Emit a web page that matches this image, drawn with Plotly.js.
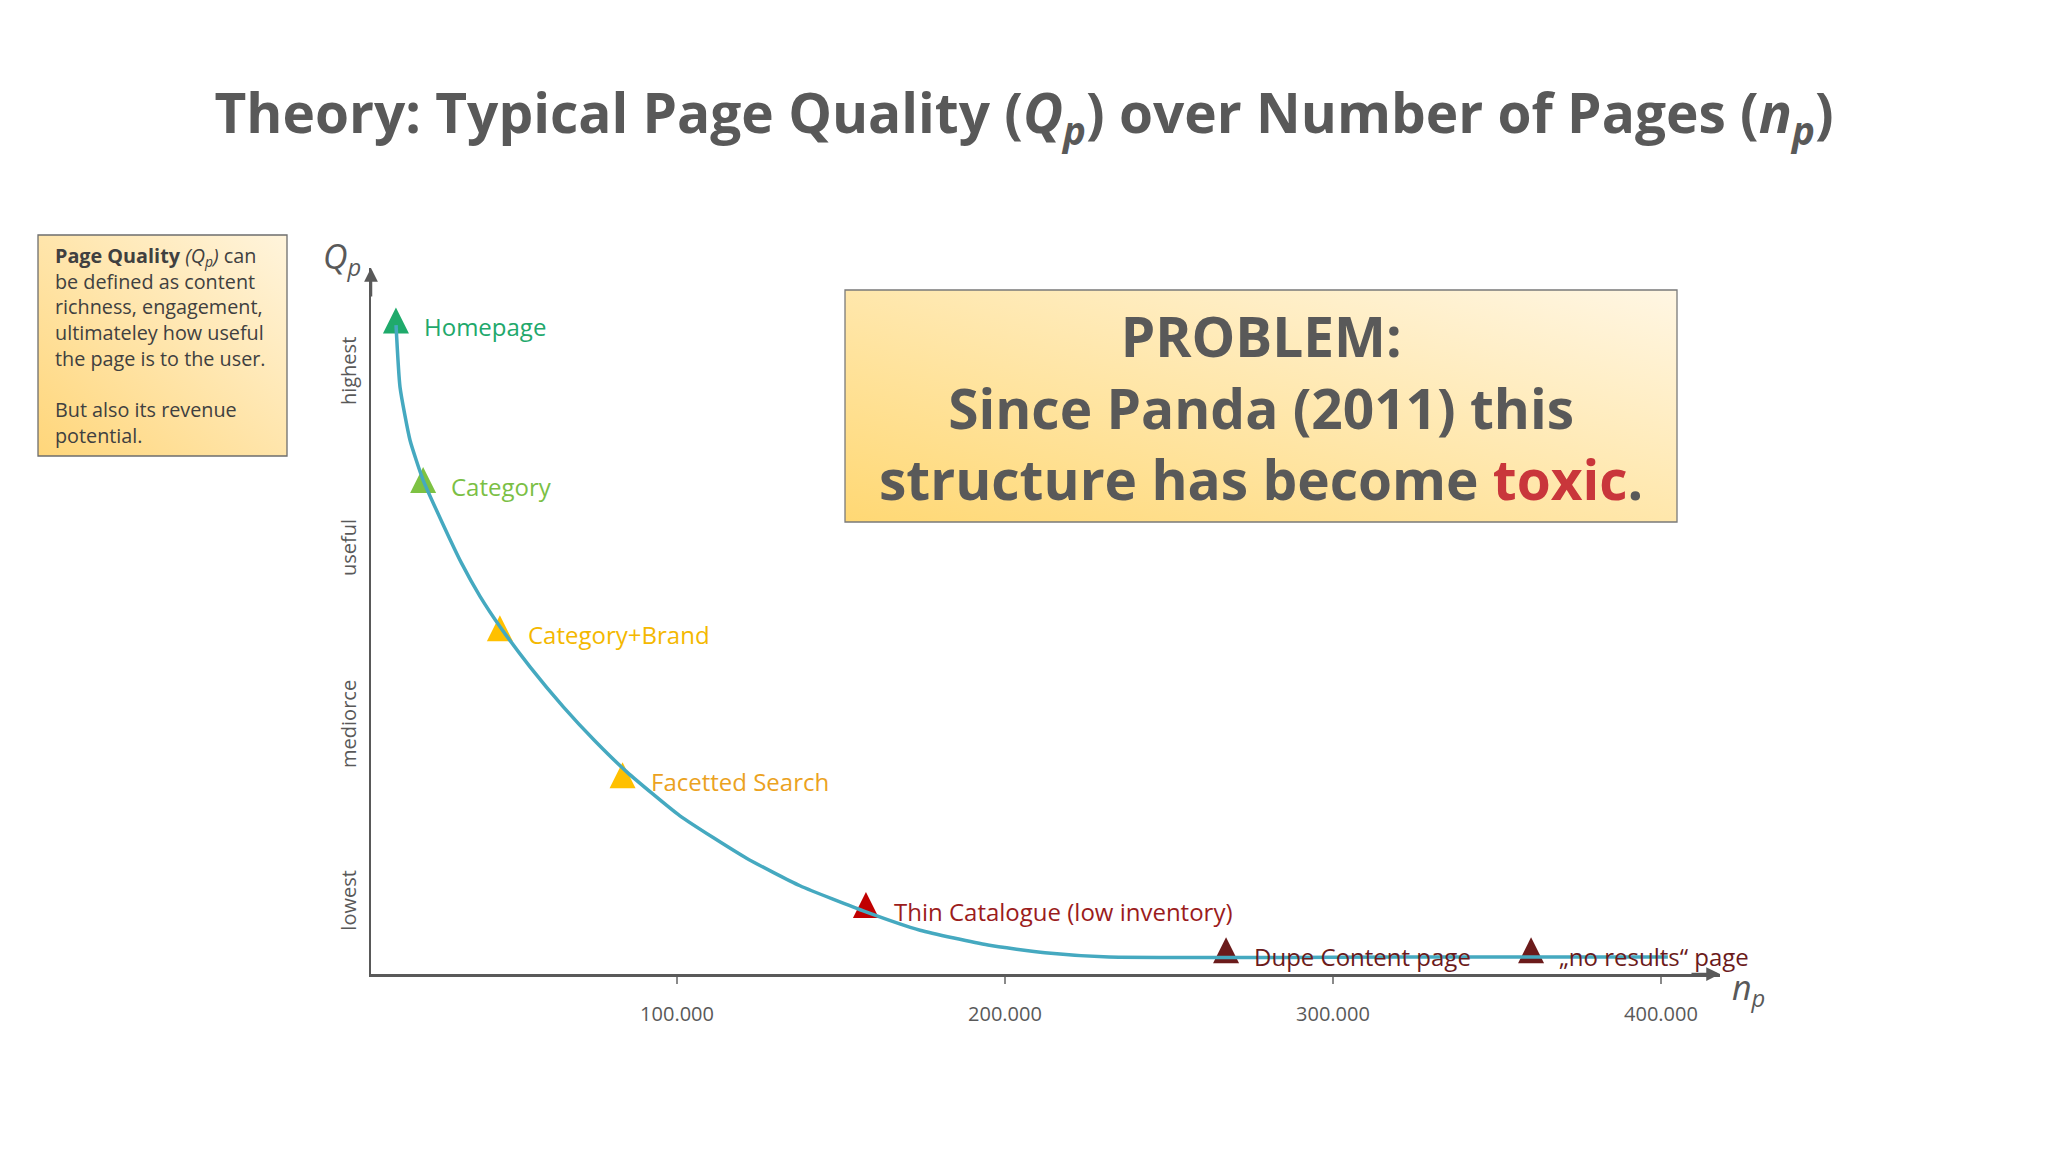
<!DOCTYPE html>
<html>
<head>
<meta charset="utf-8">
<script src="https://cdn.plot.ly/plotly-3.0.1.min.js"></script>
<style>html,body{margin:0;padding:0;background:#ffffff;}</style>
</head>
<body>
<div id="chart" style="width:2048px;height:1152px;"></div>
<script>
// ---------- data ----------
const pageTypes = ['Homepage', 'Category', 'Category+Brand', 'Facetted Search',
  'Thin Catalogue (low inventory)', 'Dupe Content page', '\u201Eno results\u201C page'];
const pageCounts = [14300, 22600, 46000, 83400, 157600, 267400, 360400];
const pageQuality = [9.44, 7.18, 5.08, 3.00, 1.16, 0.52, 0.52];

const curveCounts = [14330, 15550, 18600, 22560, 28350, 34300, 39940, 46040, 55180, 65400, 75000,
  84760, 100900, 121200, 137500, 157600, 174100, 194800, 212200, 231700, 320400, 402100];
const curveQuality = [9.19, 8.31, 7.56, 7.00, 6.40, 5.82, 5.35, 4.92, 4.35, 3.78, 3.30,
  2.86, 2.24, 1.64, 1.25, 0.88, 0.62, 0.41, 0.30, 0.24, 0.24, 0.24];

const qualityTickVals = [1, 3.5, 6, 8.5];
const qualityTickText = ['lowest', 'mediorce', 'useful', 'highest'];
const countTickVals = [100000, 200000, 300000, 400000];
const countTickText = ['100.000', '200.000', '300.000', '400.000'];

// ---------- styles ----------
const markerColors = ['#1FAA6B', '#7DC243', '#FFC000', '#FFC000', '#C00000', '#6B1B1B', '#6B1B1B'];
const labelColors  = ['#21A86B', '#7BBF45', '#F4B800', '#EBA21E', '#9B1C1C', '#6B1B1B', '#6B1B1B'];
const GRAY = '#595959';
const FONT = 'Open Sans, Noto Sans, sans-serif';

// plot area in pixels
const L = 371, R = 1720, T = 268, B = 974;
const px = p => (p - L) / (R - L);
const py = p => (B - p) / (B - T);

function gradSvg(c1, c2) {
  const s = '<svg xmlns="http://www.w3.org/2000/svg" width="400" height="200" viewBox="0 0 400 200" preserveAspectRatio="none">' +
    '<defs><linearGradient id="g" x1="0" y1="1" x2="1" y2="0">' +
    '<stop offset="0" stop-color="' + c1 + '"/><stop offset="1" stop-color="' + c2 + '"/>' +
    '</linearGradient></defs><rect width="400" height="200" fill="url(#g)"/></svg>';
  return 'data:image/svg+xml;charset=utf-8,' + encodeURIComponent(s);
}

const traces = [
  {
    x: pageCounts, y: pageQuality, type: 'scatter', mode: 'markers',
    marker: { symbol: 'arrow-up', size: 26, color: markerColors, line: { width: 0 } },
    hoverinfo: 'skip', showlegend: false
  },
  {
    x: curveCounts, y: curveQuality, type: 'scatter', mode: 'lines',
    line: { color: '#45A9C0', width: 3.5, shape: 'spline', smoothing: 0.5 },
    hoverinfo: 'skip', showlegend: false
  }
];

const annotations = [];
pageTypes.forEach((t, i) => {
  annotations.push({
    x: pageCounts[i], y: pageQuality[i], xref: 'x', yref: 'y',
    text: t, showarrow: false, xanchor: 'left', yanchor: 'middle',
    xshift: 26, yshift: -19,
    font: { family: FONT, size: 24, color: labelColors[i] }
  });
});

// problem box text
annotations.push({
  xref: 'paper', yref: 'paper', x: px(1261), y: py(407),
  xanchor: 'center', yanchor: 'middle', showarrow: false, align: 'center',
  text: 'PROBLEM:<br>Since Panda (2011) this<br>structure has become <span style="color:#C9363B">toxic</span>.',
  font: { family: FONT, size: 55, color: GRAY, weight: 700 }
});

// info box text
annotations.push({
  xref: 'paper', yref: 'paper', x: px(53), y: py(345),
  xanchor: 'left', yanchor: 'middle', showarrow: false, align: 'left',
  text: '<b>Page Quality</b> <i>(Q<sub>p</sub>)</i> can<br>be defined as content<br>richness, engagement,<br>ultimateley how useful<br>the page is to the user.<br><br>But also its revenue<br>potential.',
  font: { family: FONT, size: 19.8, color: '#404040' }
});

// axis titles
annotations.push({
  xref: 'paper', yref: 'paper', x: px(342), y: py(258),
  xanchor: 'center', yanchor: 'middle', showarrow: false,
  text: '<i>Q<sub>p</sub></i>', font: { family: FONT, size: 34, color: GRAY }
});
annotations.push({
  xref: 'paper', yref: 'paper', x: px(1748), y: py(989),
  xanchor: 'center', yanchor: 'middle', showarrow: false,
  text: '<i>n<sub>p</sub></i>', font: { family: FONT, size: 34, color: GRAY }
});

// axis arrowheads
annotations.push({
  xref: 'paper', yref: 'paper', x: 1, y: 0, ax: -30, ay: 0, text: '',
  showarrow: true, arrowhead: 2, arrowsize: 1.1, arrowwidth: 2.5, arrowcolor: GRAY
});
annotations.push({
  xref: 'paper', yref: 'paper', x: 0, y: 1, ax: 0, ay: 30, text: '',
  showarrow: true, arrowhead: 2, arrowsize: 1.1, arrowwidth: 2.5, arrowcolor: GRAY
});

const layout = {
  width: 2048, height: 1152,
  paper_bgcolor: '#ffffff', plot_bgcolor: 'rgba(0,0,0,0)',
  margin: { l: L, r: 2048 - R, t: T, b: 1152 - B, pad: 0 },
  title: {
    text: 'Theory: Typical Page Quality (<i>Q<sub>p</sub></i>) over Number of Pages (<i>n<sub>p</sub></i>)',
    x: 0.5, xanchor: 'center', xref: 'container',
    y: 1 - 114 / 1152, yanchor: 'middle', yref: 'container',
    font: { family: FONT, size: 55, color: GRAY, weight: 700 }
  },
  showlegend: false,
  xaxis: {
    range: [6700, 418000], showgrid: false, zeroline: false,
    showline: true, linecolor: GRAY, linewidth: 2.5,
    ticks: 'outside', ticklen: 7, tickwidth: 1.5, tickcolor: '#8a8a8a',
    tickvals: countTickVals, ticktext: countTickText,
    ticklabelstandoff: 13,
    tickfont: { family: FONT, size: 20, color: GRAY }
  },
  yaxis: {
    range: [0, 10], showgrid: false, zeroline: false,
    showline: true, linecolor: GRAY, linewidth: 2.5,
    ticks: '', tickvals: qualityTickVals, ticktext: qualityTickText,
    tickangle: -90, ticklabelstandoff: 5,
    tickfont: { family: FONT, size: 20, color: GRAY }
  },
  images: [
    { source: gradSvg('#FFD874', '#FFF6E3'), xref: 'paper', yref: 'paper',
      x: px(845), y: py(290), sizex: px(1677) - px(845), sizey: py(290) - py(522),
      xanchor: 'left', yanchor: 'top', sizing: 'stretch', layer: 'below' },
    { source: gradSvg('#FFD67A', '#FFF4DC'), xref: 'paper', yref: 'paper',
      x: px(38), y: py(235), sizex: px(287) - px(38), sizey: py(235) - py(456),
      xanchor: 'left', yanchor: 'top', sizing: 'stretch', layer: 'below' }
  ],
  shapes: [
    { type: 'rect', xref: 'paper', yref: 'paper', x0: px(845), x1: px(1677), y0: py(522), y1: py(290),
      line: { color: '#7A7A7A', width: 1.3 }, fillcolor: 'rgba(0,0,0,0)', layer: 'below' },
    { type: 'rect', xref: 'paper', yref: 'paper', x0: px(38), x1: px(287), y0: py(456), y1: py(235),
      line: { color: '#6E6E6E', width: 1.3 }, fillcolor: 'rgba(0,0,0,0)', layer: 'above' }
  ],
  annotations: annotations
};

Plotly.newPlot('chart', traces, layout, { displayModeBar: false, staticPlot: true });
</script>
</body>
</html>
